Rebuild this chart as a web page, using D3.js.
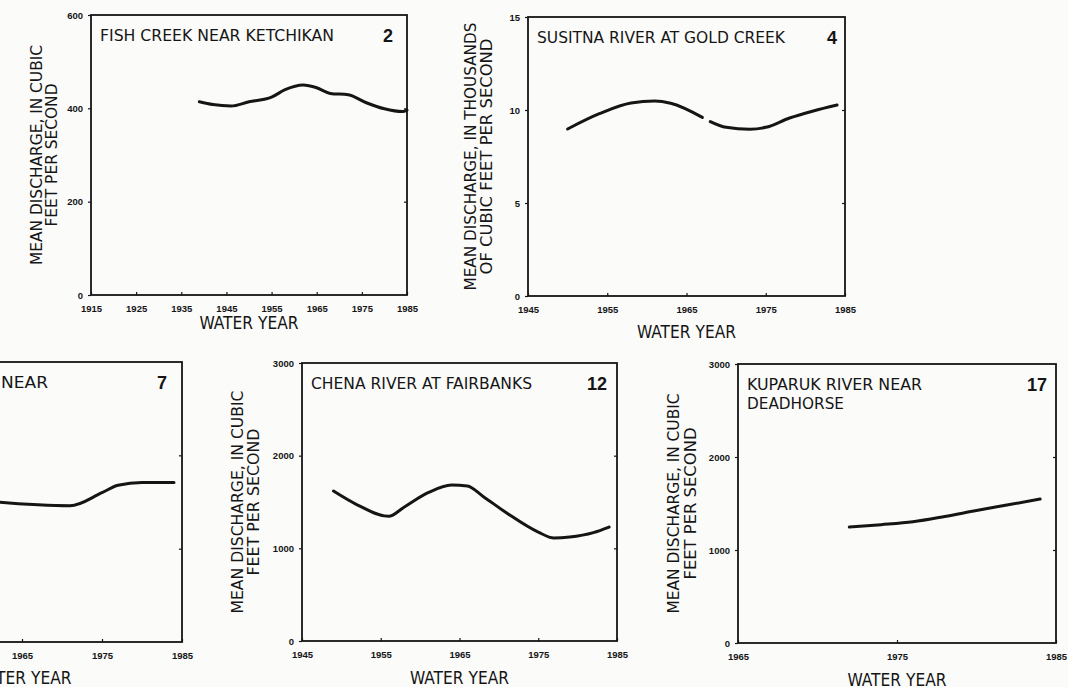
<!DOCTYPE html>
<html>
<head>
<meta charset="utf-8">
<script src="https://cdn.jsdelivr.net/npm/d3@7"></script>
<style>
  body { margin: 0; background: #fbfbfa; }
  svg { display: block; }
</style>
</head>
<body>
<svg id="chart"></svg>
<script>

/*Data*/

// 2 - Fish Creek near Ketchikan (cfs)
var fishYears = [1939, 1942, 1946, 1950, 1955, 1958, 1962, 1965, 1968, 1972, 1976, 1980, 1984, 1985];
var fishFlow  = [414, 408, 405, 414, 424, 440, 450, 444, 432, 429, 412, 399, 393, 396];
var fishXTicks = [1915, 1925, 1935, 1945, 1955, 1965, 1975, 1985];
var fishYTicks = [0, 200, 400, 600];

// 4 - Susitna River at Gold Creek (thousands of cfs), two pieces
var susitnaYearsA = [1950, 1954, 1958, 1961, 1963, 1967];
var susitnaFlowA  = [8.98, 9.8, 10.38, 10.48, 10.36, 9.6];
var susitnaYearsB = [1968, 1970, 1973, 1975, 1978, 1981, 1984];
var susitnaFlowB  = [9.38, 9.07, 8.97, 9.07, 9.57, 9.95, 10.27];
var susitnaXTicks = [1945, 1955, 1965, 1975, 1985];
var susitnaYTicks = [0, 5, 10, 15];

// 7 - cut off at the left edge
var sevenYears = [1950, 1954, 1958, 1962, 1967, 1971, 1975, 1977, 1980, 1984];
var sevenFlow  = [16.2, 15.8, 15.4, 15.0, 14.7, 14.6, 16.0, 16.8, 17.1, 17.1];
var sevenXTicks = [1945, 1955, 1965, 1975, 1985];
var sevenYTicks = [0, 10, 20, 30];

// 12 - Chena River at Fairbanks (cfs)
var chenaYears = [1949, 1952, 1956, 1958, 1961, 1964, 1966, 1968, 1971, 1975, 1977, 1979, 1982, 1984];
var chenaFlow  = [1618, 1470, 1345, 1446, 1600, 1683, 1672, 1560, 1381, 1175, 1111, 1122, 1170, 1230];
var chenaXTicks = [1945, 1955, 1965, 1975, 1985];
var chenaYTicks = [0, 1000, 2000, 3000];

// 17 - Kuparuk River near Deadhorse (cfs)
var kuparukYears = [1972, 1974, 1976, 1978, 1980, 1982, 1984];
var kuparukFlow  = [1247, 1272, 1303, 1360, 1425, 1486, 1548];
var kuparukXTicks = [1965, 1975, 1985];
var kuparukYTicks = [0, 1000, 2000, 3000];

var cfsTitle = ["MEAN DISCHARGE, IN CUBIC", "FEET PER SECOND"];
var kcfsTitle = ["MEAN DISCHARGE, IN THOUSANDS", "OF CUBIC FEET PER SECOND"];

/*Layout of each panel*/
var panels = [
    {left: 91, top: 15, width: 316, height: 280,
     xDomain: [1915, 1985], yDomain: [0, 600], xTicks: fishXTicks, yTicks: fishYTicks,
     series: [[fishYears, fishFlow]],
     title: ["FISH CREEK NEAR KETCHIKAN"], titleLen: [234], num: "2", numRight: 14,
     yTitle: cfsTitle, yTitleX: [-55, -40], yTitleLen: [220, 143], waterDy: 34},
    {left: 528, top: 17, width: 317, height: 279,
     xDomain: [1945, 1985], yDomain: [0, 15], xTicks: susitnaXTicks, yTicks: susitnaYTicks,
     series: [[susitnaYearsA, susitnaFlowA], [susitnaYearsB, susitnaFlowB]],
     title: ["SUSITNA RIVER AT GOLD CREEK"], titleLen: [248], num: "4", numRight: 8,
     yTitle: kcfsTitle, yTitleX: [-58, -42], yTitleLen: [268, 236], waterDy: 42},
    {left: -138, top: 362, width: 320, height: 280,
     xDomain: [1945, 1985], yDomain: [0, 30], xTicks: sevenXTicks, yTicks: sevenYTicks,
     series: [[sevenYears, sevenFlow]],
     title: ["COPPER RIVER NEAR", "CHITINA"], titleLen: [177, 70], num: "7", numRight: 15,
     yTitle: kcfsTitle, yTitleX: [-62, -46], yTitleLen: [268, 236], waterDy: 42},
    {left: 302, top: 363, width: 315, height: 278,
     xDomain: [1945, 1985], yDomain: [0, 3000], xTicks: chenaXTicks, yTicks: chenaYTicks,
     series: [[chenaYears, chenaFlow]],
     title: ["CHENA RIVER AT FAIRBANKS"], titleLen: [221], num: "12", numRight: 10,
     yTitle: cfsTitle, yTitleX: [-65, -49], yTitleLen: [223, 147], waterDy: 43},
    {left: 738, top: 364, width: 318, height: 279,
     xDomain: [1965, 1985], yDomain: [0, 3000], xTicks: kuparukXTicks, yTicks: kuparukYTicks,
     series: [[kuparukYears, kuparukFlow]],
     title: ["KUPARUK RIVER NEAR", "DEADHORSE"], titleLen: [175, 97], num: "17", numRight: 9,
     yTitle: cfsTitle, yTitleX: [-65, -48], yTitleLen: [220, 152], waterDy: 43}
];

var ink = "#151515";
var letterFont = "'Liberation Sans Narrow', 'DejaVu Sans Condensed', 'Liberation Sans', sans-serif";
var tickFont = "'Liberation Sans', Arial, sans-serif";

var svg = d3.select("#chart")
    .attr("width", 1068)
    .attr("height", 687);

//Draws one small multiple
function drawPanel(p) {
    var g = svg.append("g")
        .attr("transform", "translate(" + p.left + "," + p.top + ")");

    //Scales
    var x = d3.scaleLinear().domain(p.xDomain).range([0, p.width]);
    var y = d3.scaleLinear().domain(p.yDomain).range([p.height, 0]);

    //Axis
    var xAxis = d3.axisBottom(x)
        .tickValues(p.xTicks)
        .tickFormat(d3.format("d"))
        .tickSize(-3)
        .tickPadding(10);
    var yAxis = d3.axisLeft(y)
        .tickValues(p.yTicks)
        .tickFormat(d3.format("d"))
        .tickSize(3)
        .tickPadding(5);
    var yAxisRight = d3.axisRight(y)
        .tickValues(p.yTicks.slice(1, -1))
        .tickSize(-3)
        .tickFormat("");

    g.append("g")
        .attr("class", "xAxis")
        .attr("transform", "translate(0," + p.height + ")")
        .call(xAxis);
    g.append("g")
        .attr("class", "yAxis")
        .call(yAxis);
    g.append("g")
        .attr("class", "yAxis")
        .attr("transform", "translate(" + p.width + ",0)")
        .call(yAxisRight);

    g.selectAll(".domain").remove();
    g.selectAll(".tick line").attr("stroke", ink).attr("stroke-width", 1.2);
    g.selectAll(".tick text")
        .attr("fill", ink)
        .attr("font-family", tickFont)
        .attr("font-size", 9.5)
        .attr("font-weight", "bold");

    //Frame
    g.append("rect")
        .attr("width", p.width)
        .attr("height", p.height)
        .attr("fill", "none")
        .attr("stroke", ink)
        .attr("stroke-width", 1.8);

    //Draw data
    var line = d3.line()
        .x(function(d){ return x(d[0]); })
        .y(function(d){ return y(d[1]); })
        .curve(d3.curveMonotoneX);

    p.series.forEach(function(s){
        g.append("path")
            .datum(d3.zip(s[0], s[1]))
            .attr("d", line)
            .attr("fill", "none")
            .attr("stroke", ink)
            .attr("stroke-width", 3)
            .attr("stroke-linecap", "round");
    });

    //Station name
    p.title.forEach(function(t, i){
        g.append("text")
            .attr("x", 9)
            .attr("y", 26 + i * 19)
            .attr("font-family", letterFont)
            .attr("font-size", 16)
            .attr("fill", ink)
            .attr("textLength", p.titleLen[i])
            .attr("lengthAdjust", "spacingAndGlyphs")
            .text(t);
    });

    //Station number
    g.append("text")
        .attr("x", p.width - p.numRight)
        .attr("y", 27)
        .attr("text-anchor", "end")
        .attr("font-family", tickFont)
        .attr("font-size", 18)
        .attr("font-weight", "bold")
        .attr("fill", ink)
        .text(p.num);

    //Axis titles
    p.yTitle.forEach(function(t, i){
        g.append("text")
            .attr("transform", "translate(" + p.yTitleX[i] + "," + (p.height / 2) + ") rotate(-90)")
            .attr("text-anchor", "middle")
            .attr("dy", "0.36em")
            .attr("font-family", letterFont)
            .attr("font-size", 16)
            .attr("fill", ink)
            .attr("textLength", p.yTitleLen[i])
            .attr("lengthAdjust", "spacingAndGlyphs")
            .text(t);
    });

    g.append("text")
        .attr("x", p.width / 2)
        .attr("y", p.height + p.waterDy)
        .attr("text-anchor", "middle")
        .attr("font-family", letterFont)
        .attr("font-size", 17)
        .attr("fill", ink)
        .attr("textLength", 99)
        .attr("lengthAdjust", "spacingAndGlyphs")
        .text("WATER YEAR");
}

panels.forEach(drawPanel);

</script>
</body>
</html>
